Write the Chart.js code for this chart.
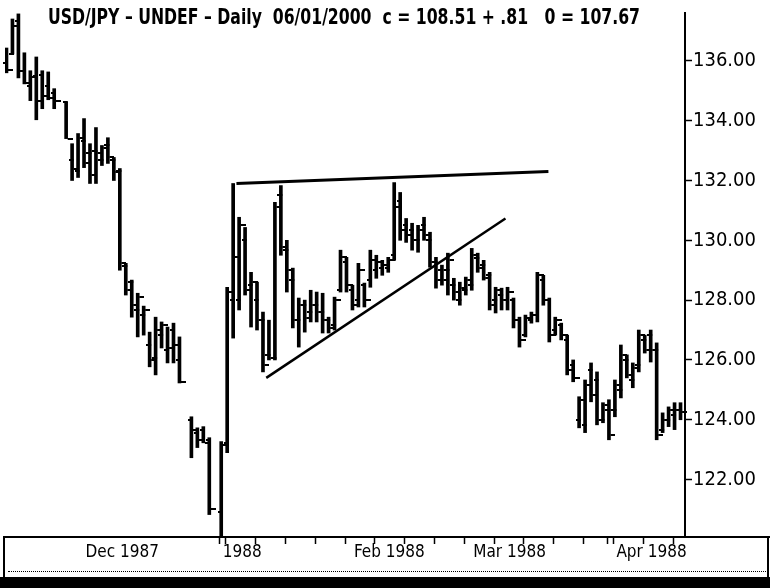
<!DOCTYPE html>
<html><head><meta charset="utf-8">
<script src="https://cdn.jsdelivr.net/npm/chart.js@4.4.1/dist/chart.umd.min.js"></script>
<style>
html,body{margin:0;padding:0;background:#fff;}
#wrap{position:relative;width:770px;height:588px;overflow:hidden;background:#fff;}
#c{position:absolute;left:0;top:0;}
#title{position:absolute;left:48px;top:5px;font-family:'Liberation Sans Narrow','DejaVu Sans Condensed','Roboto Condensed',sans-serif;font-weight:bold;font-size:21px;white-space:pre;color:#000;transform-origin:0 0;}
.blk{position:absolute;background:#000;}
#dots{position:absolute;left:8px;top:571px;width:758px;border-top:1px dotted #000;}
</style></head>
<body><div id="wrap">
<canvas id="c" width="770" height="588"></canvas>
<div id="title">USD/JPY – UNDEF – Daily  06/01/2000  c = 108.51 + .81   0 = 107.67</div>
<div class="blk" style="left:685px;top:536px;width:85px;height:2px"></div>
<div class="blk" style="left:3px;top:536px;width:2px;height:42px"></div>
<div class="blk" style="left:767px;top:536px;width:2px;height:42px"></div>
<div id="dots"></div>
<div class="blk" style="left:0;top:577px;width:770px;height:11px"></div>
</div>
<script>
// ---- data ----
const highs = [136.43,137.40,137.57,136.27,135.67,136.13,135.67,135.63,135.07,null,
134.63,133.23,133.57,134.07,133.23,133.77,133.17,133.43,132.77,132.40,
129.23,128.67,128.23,127.80,126.93,127.43,127.27,127.10,127.23,126.77,
null,124.10,123.73,123.77,123.40,null,123.27,128.43,131.90,130.77,
130.43,128.93,128.60,127.60,127.33,131.27,131.83,130.00,129.07,128.07,
128.00,128.33,128.27,128.23,127.43,128.10,129.67,129.43,128.50,129.23,
128.57,129.67,129.50,129.33,129.43,131.93,131.60,130.73,130.57,130.50,
130.77,130.27,129.43,129.17,129.57,128.73,128.60,128.77,129.73,129.57,
129.33,128.93,128.43,128.40,128.43,128.07,127.43,127.50,127.60,128.93,
128.83,128.07,127.43,127.23,126.83,126.00,124.77,125.33,125.90,125.60,
124.57,124.67,125.33,126.50,126.17,125.90,127.00,126.83,127.00,126.57,
124.23,124.43,124.57,124.57];
const lows = [135.60,136.23,135.43,135.23,134.67,134.03,134.40,134.70,134.40,null,
133.40,132.00,132.10,132.43,131.90,131.90,132.50,132.57,132.00,129.00,
128.17,127.43,126.77,126.83,125.77,125.50,126.40,125.90,125.90,125.23,
null,122.73,123.07,123.23,120.83,null,120.05,122.90,126.73,127.67,
128.17,127.10,127.00,125.60,126.00,126.00,129.50,128.27,127.07,126.43,
126.93,127.27,127.27,126.90,126.90,127.00,128.27,128.27,127.67,127.77,
127.77,128.43,128.73,128.83,128.93,129.33,130.00,129.93,129.67,129.60,
130.00,129.10,128.40,128.50,128.17,128.00,127.83,128.17,128.33,128.93,
128.67,127.67,127.57,127.67,127.67,127.07,126.43,126.77,127.23,127.27,
127.83,126.60,126.83,126.67,125.50,125.27,123.73,123.57,124.60,123.83,
123.90,123.33,124.10,124.73,125.40,125.07,125.60,126.23,125.93,123.33,
123.57,123.77,123.67,124.00];
const opens = [135.93,136.23,137.33,135.67,135.17,135.50,135.53,135.17,134.93,null,
134.63,132.70,132.33,133.33,132.93,133.00,132.67,133.17,132.67,132.33,
129.13,128.60,127.67,127.50,126.50,126.07,126.83,126.33,127.00,126.00,
null,124.00,123.57,123.67,123.33,null,120.90,123.23,128.00,128.00,
130.00,128.50,128.00,127.33,126.17,126.07,131.50,129.67,128.67,127.33,
127.83,127.60,127.83,127.60,127.33,127.17,128.33,129.27,128.33,128.00,
128.50,128.67,129.00,129.07,129.07,129.50,131.33,130.50,130.33,130.00,
130.50,130.00,129.27,129.00,129.00,128.50,128.00,128.33,128.50,129.40,
129.17,128.83,128.00,128.17,128.00,128.00,127.33,126.83,127.33,127.50,
128.67,128.00,127.00,127.17,126.67,125.83,124.00,123.83,125.67,125.33,
124.00,124.33,124.33,125.00,126.00,125.33,125.83,126.67,126.83,126.33,
123.67,124.00,124.17,124.33];
const closes = [135.70,137.17,135.67,135.27,135.47,134.67,134.83,134.77,134.67,null,
133.40,132.40,133.43,132.60,132.17,132.93,133.10,132.77,132.27,129.23,
128.33,127.83,128.10,127.67,126.00,127.00,127.17,126.40,126.50,125.27,
null,123.67,123.33,123.23,121.00,null,123.17,128.27,129.43,130.50,
128.33,128.60,127.33,125.83,126.07,131.10,129.77,129.00,127.33,127.83,
127.40,127.83,127.60,127.33,127.07,128.00,129.43,128.50,127.83,129.00,
128.00,129.33,129.27,129.17,129.33,131.10,130.33,130.17,130.00,130.33,
130.17,129.27,128.67,128.67,129.33,128.27,128.40,128.67,129.50,129.07,
128.73,127.83,128.33,128.00,128.27,127.33,126.67,127.40,127.50,128.83,
128.00,126.83,127.33,126.83,125.67,125.40,124.67,125.17,124.83,124.00,
124.50,123.50,125.17,126.17,125.50,125.73,126.83,126.33,126.33,123.50,
124.00,124.33,124.33,124.27];
const monthNames = ['Dec 1987','1988','Feb 1988','Mar 1988','Apr 1988'];
const monthLabelIdx = [13, 36, 58, 78, 102];
const weekTickIdx = [36,37,42,47,52,57,62,67,72,77,82,87,92,97,101,102,107,112];
const yTicks = [122,124,126,128,130,132,134,136];
const trendUpperX = [38.3, 90.6], trendUpperY = [131.90, 132.30];
const trendLowerX = [43.3, 83.4], trendLowerY = [125.40, 130.73];

// ---- build ----
const N = highs.length;
const labels = Array.from({length:N}, (_, i) => String(i));
const xLabels = Array(N).fill('');
monthLabelIdx.forEach((ix, k) => { xLabels[ix] = monthNames[k]; });
const ranges = highs.map((h, i) => h == null ? null : [lows[i], h]);

// fit title width to reference
(function(){
  const t = document.getElementById('title');
  const w = t.getBoundingClientRect().width;
  t.style.transform = 'scaleX(' + (592 / w) + ')';
})();

function tickCanvas(left) {
  const c = document.createElement('canvas');
  c.width = 10; c.height = 2;
  const g = c.getContext('2d');
  g.fillStyle = '#000';
  if (left) g.fillRect(0, 0, 5, 2); else g.fillRect(5, 0, 5, 2);
  return c;
}
const FONT = "'Liberation Sans Narrow','DejaVu Sans Condensed','Roboto Condensed',sans-serif";

new Chart(document.getElementById('c'), {
  data: {
    labels: labels,
    datasets: [
      { type:'bar', data: ranges, backgroundColor:'#000', borderWidth:0, barThickness:3, borderSkipped:false, xAxisID:'x', yAxisID:'y', order:3 },
      { type:'line', data: opens, showLine:false, pointStyle: tickCanvas(true), pointRadius:3, xAxisID:'x', yAxisID:'y', order:2 },
      { type:'line', data: closes, showLine:false, pointStyle: tickCanvas(false), pointRadius:3, xAxisID:'x', yAxisID:'y', order:2 },
      { type:'line', data: trendUpperX.map((x,i)=>({x, y:trendUpperY[i]})), borderColor:'#000', borderWidth:3, pointRadius:0, xAxisID:'xt', yAxisID:'y', order:1 },
      { type:'line', data: trendLowerX.map((x,i)=>({x, y:trendLowerY[i]})), borderColor:'#000', borderWidth:2.5, pointRadius:0, xAxisID:'xt', yAxisID:'y', order:1 }
    ]
  },
  options: {
    responsive:false, animation:false, events:[],
    layout:{ padding:{ left:3, top:12, right:0, bottom:0 } },
    plugins:{ legend:{display:false}, tooltip:{enabled:false}, title:{display:false} },
    scales:{
      x:{ type:'category', offset:true,
        grid:{ offset:true, drawOnChartArea:false, drawTicks:true, tickLength:7,
          tickColor:(ctx)=> weekTickIdx.includes(ctx.index) ? '#000' : 'rgba(0,0,0,0)', tickWidth:1.5 },
        border:{ display:true, color:'#000', width:2 },
        ticks:{ autoSkip:false, maxRotation:0, minRotation:0, align:'start', padding:-2,
          color:'#000', font:{ family:FONT, size:17 }, callback:(v,i)=>xLabels[i] },
        afterFit:(s)=>{ s.height = 51; }
      },
      xt:{ type:'linear', display:false, min:-0.5, max:N-0.5 },
      y:{ type:'linear', position:'right', min:120.08, max:137.60,
        grid:{ drawOnChartArea:false, drawTicks:true, tickLength:7, tickColor:'#000', tickWidth:1.5 },
        border:{ display:true, color:'#000', width:2 },
        afterBuildTicks:(s)=>{ s.ticks = yTicks.map(v=>({value:v})); },
        ticks:{ padding:1, color:'#000', font:{ family:FONT, size:20 }, callback:(v)=>Number(v).toFixed(2) },
        afterFit:(s)=>{ s.width = 85; }
      }
    }
  }
});
</script>
</body></html>
